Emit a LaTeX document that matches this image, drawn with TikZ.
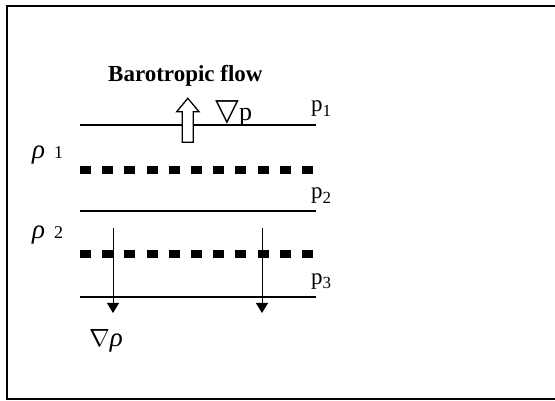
\documentclass[tikz,border=0pt]{standalone}
\usepackage{fontspec}
\setmainfont{Liberation Serif}
\newfontfamily\symfont{DejaVu Sans}
\usetikzlibrary{arrows.meta}
\newcommand{\mysub}[1]{{\fontsize{17}{20}\selectfont\raisebox{-4.5pt}{#1}}}
\begin{document}
\begin{tikzpicture}[x=1pt,y=-1pt,
  frameline/.style={line width=2pt},
  isobar/.style={line width=2.2pt},
  isopycnal/.style={line width=7.5pt, dash pattern=on 11pt off 11.2pt},
  gradarrow/.style={line width=1pt, -{Triangle[length=10pt,width=12pt]}},
  lbl/.style={inner sep=0pt, font=\fontsize{23}{26}\selectfont},
  rholbl/.style={inner sep=0pt, font=\fontsize{27}{30}\selectfont\itshape}]
\useasboundingbox (0,0) rectangle (555,401);
\draw[frameline] (560,6) -- (7,6) -- (7,399) -- (560,399);
% isobars
\coordinate (p1L) at (80,125); \coordinate (p1R) at (316,125);
\coordinate (p2L) at (80,211); \coordinate (p2R) at (316,211);
\coordinate (p3L) at (80,297); \coordinate (p3R) at (316,297);
\draw[isobar] (p1L) -- (p1R);
\draw[isobar] (p2L) -- (p2R);
\draw[isobar] (p3L) -- (p3R);
% isopycnals
\coordinate (d1L) at (80,170); \coordinate (d1R) at (313,170);
\coordinate (d2L) at (80,254); \coordinate (d2R) at (313,254);
\draw[isopycnal] (d1L) -- (d1R);
\draw[isopycnal] (d2L) -- (d2R);
% density gradient arrows
\coordinate (a1s) at (113,228); \coordinate (a1e) at (113,313);
\coordinate (a2s) at (262,228); \coordinate (a2e) at (262,313);
\draw[gradarrow] (a1s) -- (a1e);
\draw[gradarrow] (a2s) -- (a2e);
% hollow flow arrow
\draw[line width=1.3pt, fill=white, line join=miter]
  (182.3,142.3) -- (182.3,111.7) -- (176.7,111.7) -- (187.8,98.3)
  -- (199,111.7) -- (193.3,111.7) -- (193.3,142.3) -- cycle;
% labels
\node[lbl, anchor=base west, font=\fontsize{23}{26}\selectfont\bfseries] (title) at (108,82) {Barotropic flow};
\node[lbl, anchor=base west] (gradp) at (215,121) {{\symfont\fontsize{31}{34}\selectfont ▽}\fontsize{26}{28}\selectfont p};
\node[lbl, anchor=base west] (lp1) at (311,112) {p\mysub{1}};
\node[lbl, anchor=base west] (lp2) at (311,199) {p\mysub{2}};
\node[lbl, anchor=base west] (lp3) at (311,284) {p\mysub{3}};
\node[rholbl, anchor=base west] (r1) at (32,159) {ρ\,\,{\upshape\fontsize{18}{20}\selectfont 1}};
\node[rholbl, anchor=base west] (r2) at (32,239) {ρ\,\,{\upshape\fontsize{18}{20}\selectfont 2}};
\node[rholbl, anchor=base west] (gr) at (89,346) {{\upshape$\nabla$}ρ};
\end{tikzpicture}
\end{document}
